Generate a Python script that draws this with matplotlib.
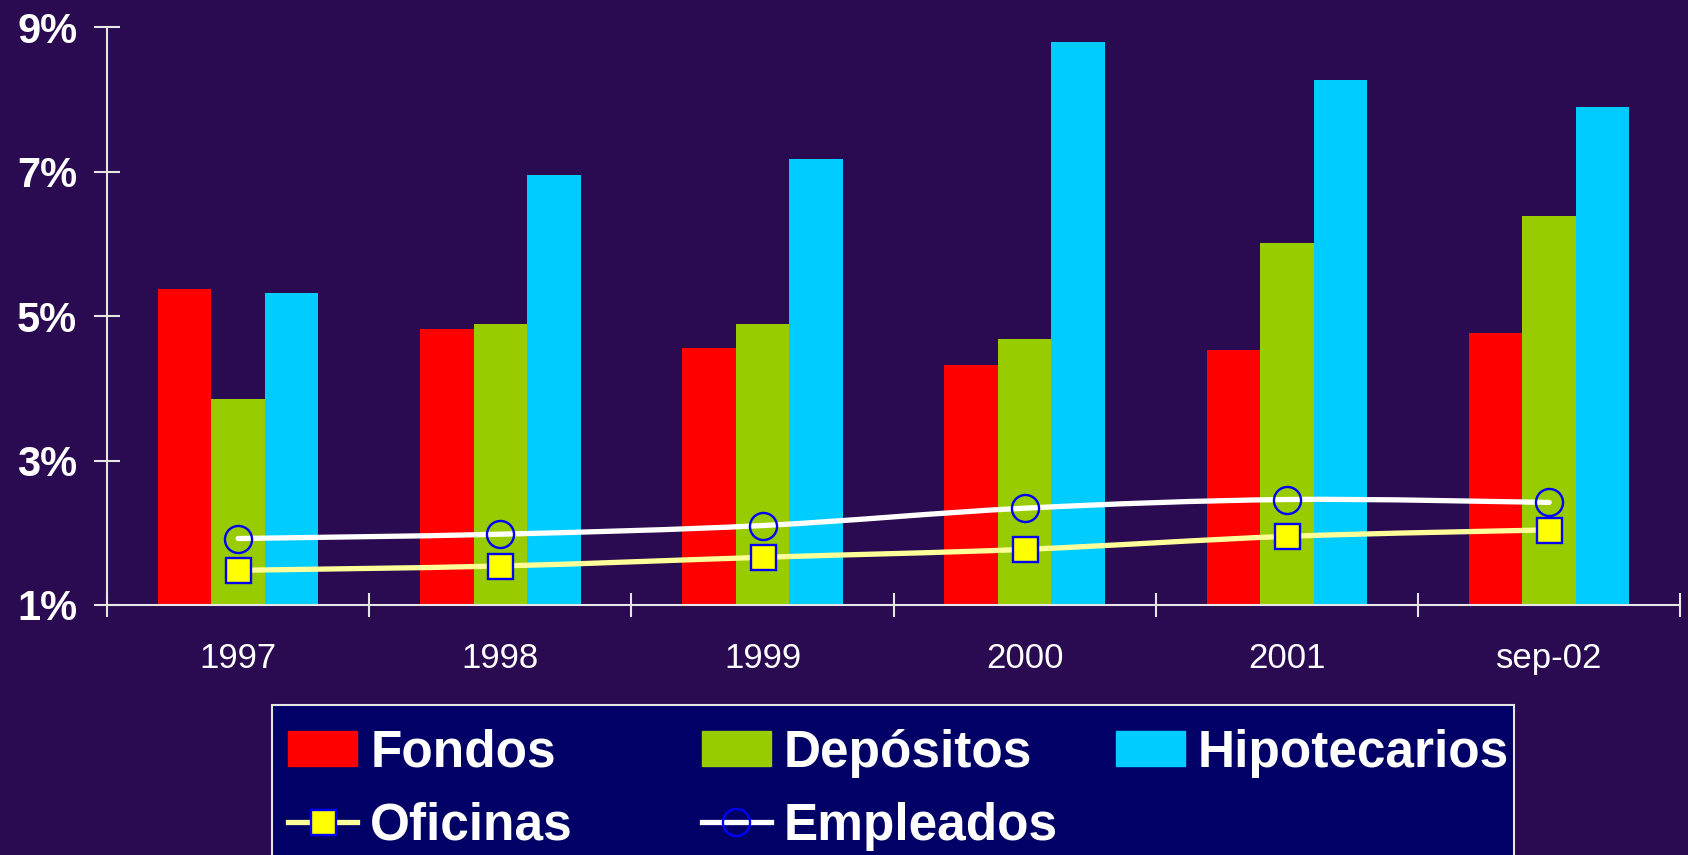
import matplotlib.pyplot as plt
import numpy as np
from matplotlib.lines import Line2D
from matplotlib.patches import PathPatch, Rectangle
from matplotlib.path import Path

# data
periods = ["1997", "1998", "1999", "2000", "2001", "sep-02"]
fondos = [5.38, 4.82, 4.56, 4.32, 4.53, 4.76]
depositos = [3.85, 4.89, 4.89, 4.68, 6.01, 6.38]
hipotecarios = [5.32, 6.95, 7.18, 8.79, 8.26, 7.89]
oficinas = [1.48, 1.54, 1.66, 1.77, 1.95, 2.04]
empleados = [1.92, 1.98, 2.10, 2.34, 2.46, 2.42]
yticks = [1, 3, 5, 7, 9]
ytick_labels = ["1%", "3%", "5%", "7%", "9%"]

BG = "#2a0a50"
LEGEND_BG = "#000066"
RED = "#ff0000"
GREEN = "#99cc00"
CYAN = "#00ccff"
AXIS = "#e6e6e6"
LINE_W = 3.8

plt.rcParams["font.family"] = ["Liberation Sans", "DejaVu Sans"]

fig = plt.figure(figsize=(16.88, 8.55), dpi=100, facecolor=BG)
ax = fig.add_axes([0.0634, 0.2924, 0.932, 0.676])
ax.set_facecolor(BG)

x = np.arange(len(periods))
w = 0.204
ax.bar(x - w, fondos, w, color=RED, zorder=2)
ax.bar(x, depositos, w, color=GREEN, zorder=2)
ax.bar(x + w, hipotecarios, w, color=CYAN, zorder=2)


def smooth_path(xs, ys):
    # Excel-style smoothed line: Catmull-Rom segments as cubic Bezier curves
    pts = np.column_stack([xs, ys]).astype(float)
    n = len(pts)
    verts = [pts[0]]
    codes = [Path.MOVETO]
    for i in range(n - 1):
        p0 = pts[max(i - 1, 0)]
        p1 = pts[i]
        p2 = pts[i + 1]
        p3 = pts[min(i + 2, n - 1)]
        verts += [p1 + (p2 - p0) / 6, p2 - (p3 - p1) / 6, p2]
        codes += [Path.CURVE4] * 3
    return Path(verts, codes)


ax.add_patch(PathPatch(smooth_path(x, oficinas), facecolor="none",
                       edgecolor="#ffff99", lw=LINE_W, capstyle="round", zorder=3))
ax.add_patch(PathPatch(smooth_path(x, empleados), facecolor="none",
                       edgecolor="white", lw=LINE_W, capstyle="round", zorder=3))
ax.plot(x, oficinas, ls="none", marker="s", ms=18, mfc="#ffff00",
        mec="#0000ff", mew=1.7, zorder=4)
ax.plot(x, empleados, ls="none", marker="o", ms=19.5, mfc="none",
        mec="#0000ff", mew=1.7, zorder=4)

ax.set_xlim(-0.5, len(periods) - 0.5)
ax.set_ylim(1, 9)

for side in ["top", "right"]:
    ax.spines[side].set_visible(False)
for side in ["left", "bottom"]:
    ax.spines[side].set_color(AXIS)
    ax.spines[side].set_linewidth(1.5)

ax.set_yticks(yticks)
ax.set_yticklabels(ytick_labels, fontsize=30, fontweight="bold", color="white")
ax.tick_params(axis="y", direction="inout", length=19, width=1.5,
               color=AXIS, pad=12)

ax.set_xticks(np.arange(-0.5, len(periods)), labels=[])
ax.set_xticks(x, labels=periods, minor=True)
ax.tick_params(axis="x", which="major", direction="inout", length=17,
               width=1.5, color=AXIS)
ax.tick_params(axis="x", which="minor", length=0, pad=27, labelsize=25,
               labelcolor="white")

# legend box (runs off the bottom edge, as in the original slide)
fig.add_artist(Rectangle((0.1611, -0.05), 0.7358, 0.2254,
                         transform=fig.transFigure, facecolor=LEGEND_BG,
                         edgecolor=AXIS, lw=1.5, zorder=1))

row1, row2 = 0.1188, 0.0335
entries = [
    (Rectangle((0, 0), 1, 1, color=RED), "Fondos", 0.1709, row1),
    (Rectangle((0, 0), 1, 1, color=GREEN), "Depósitos", 0.4159, row1),
    (Rectangle((0, 0), 1, 1, color=CYAN), "Hipotecarios", 0.6612, row1),
    (Line2D([], [], color="#ffff99", lw=LINE_W, marker="s", ms=18,
            mfc="#ffff00", mec="#0000ff", mew=1.7), "Oficinas", 0.1709, row2),
    (Line2D([], [], color="white", lw=LINE_W, marker="o", ms=19.5,
            mfc="none", mec="#0000ff", mew=1.7), "Empleados", 0.4159, row2),
]
for handle, label, lx, ly in entries:
    leg = fig.legend([handle], [label], loc="center left",
                     bbox_to_anchor=(lx, ly), borderaxespad=0, borderpad=0,
                     prop={"weight": "bold", "size": 37},
                     handlelength=1.34, handleheight=0.67, handletextpad=0.25,
                     frameon=False)
    leg.set_zorder(2)
    for t in leg.get_texts():
        t.set_color("white")

fig.savefig("out.png", dpi=100, facecolor=BG)
